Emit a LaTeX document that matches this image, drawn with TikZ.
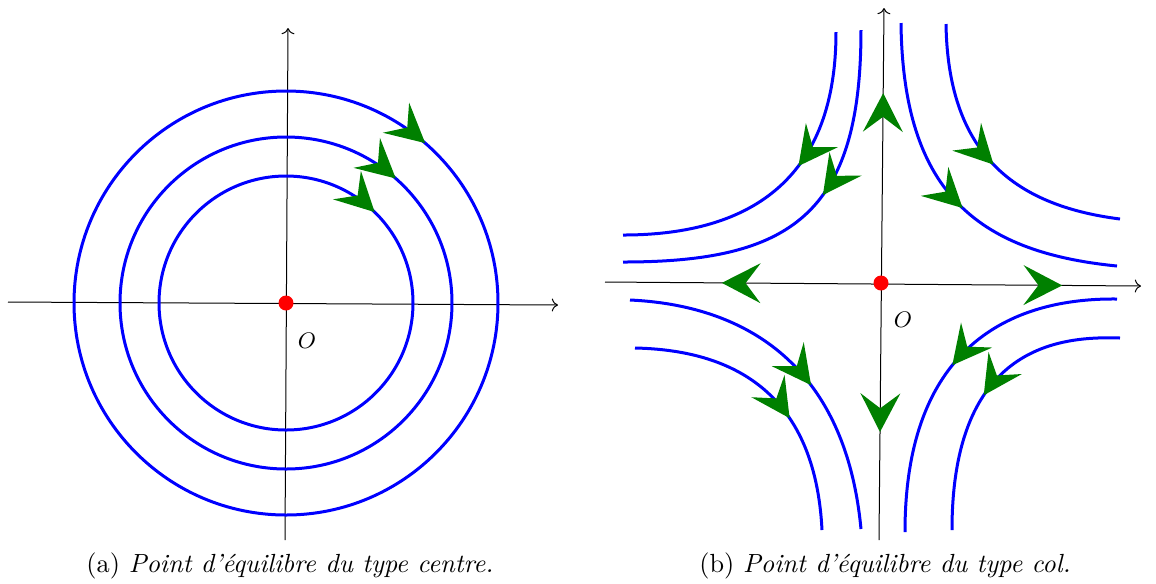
\documentclass[tikz,border=0pt]{standalone}
\usetikzlibrary{arrows.meta,decorations.markings}
\begin{document}
\begin{tikzpicture}[
        x=0.4pt, y=-0.4pt,
        axis/.style={->, line width=0.4pt, draw=black},
        orbit/.style={draw=blue, line width=1.2pt},
        greenhead/.tip={Stealth[length=15.5pt, width=16pt, inset=6pt, color=green!50!black, line width=0pt]},
        flowmark/.style={postaction={decorate, decoration={markings, mark=at position #1 with {\arrow{greenhead}}}}},
        flowback/.style={postaction={decorate, decoration={markings, mark=at position #1 with {\arrowreversed{greenhead}}}}},
        equilibrium/.style={circle, fill=red, inner sep=0pt, minimum size=6pt},
        caption/.style={anchor=base, font=\fontsize{10.5}{12}\selectfont}
    ]
        \useasboundingbox (0,0) rectangle (1156,583);

        \coordinate (centreO) at (286,303);
        \coordinate (colO) at (881,283);

        % centre
        \draw[axis] (8,302) -- (558,305);
        \draw[axis] (285,540) -- (288,28);
        \draw[orbit, flowmark=0.123] (centreO) ++(0,-127) arc[start angle=-90, end angle=270, radius=127];
        \draw[orbit, flowmark=0.115] (centreO) ++(0,-166) arc[start angle=-90, end angle=270, radius=166];
        \draw[orbit, flowmark=0.114] (centreO) ++(0,-212) arc[start angle=-90, end angle=270, radius=212];
        \node[equilibrium] (dotA) at (centreO) {};
        \node[font=\small] (labelA) at (307,341) {$O$};
        \node[caption] (capA) at (290,572) {(a) \textit{Point d'équilibre du type centre.}};

        % col
        \draw[axis, flowback=0.218, flowmark=0.853] (605,282) -- (1141,286);
        \draw[axis, flowback=0.203, flowmark=0.840] (879,540) -- (884,8);
        \draw[orbit, flowmark=0.42] (836,32) .. controls (836,175) and (755,235) .. (623,235);
        \draw[orbit, flowmark=0.44] (861,30) .. controls (861,215) and (790,262) .. (623,262);
        \draw[orbit, flowmark=0.544] (901,23) .. controls (903,190) and (975,252) .. (1117,266);
        \draw[orbit, flowmark=0.52] (946,24) .. controls (948,150) and (1010,205) .. (1120,219);
        \draw[orbit, flowmark=0.573] (630,300) .. controls (740,305) and (845,360) .. (861,529);
        \draw[orbit, flowmark=0.60] (635,348) .. controls (730,350) and (815,390) .. (822,530);
        \draw[orbit, flowmark=0.51] (1117,299) .. controls (1030,298) and (905,330) .. (905,532);
        \draw[orbit, flowmark=0.525] (1120,338) .. controls (1060,336) and (952,345) .. (952,530);
        \node[equilibrium] (dotB) at (colO) {};
        \node[font=\small] (labelB) at (903,320) {$O$};
        \node[caption] (capB) at (885,572) {(b) \textit{Point d'équilibre du type col.}};
    \end{tikzpicture}
\end{document}
